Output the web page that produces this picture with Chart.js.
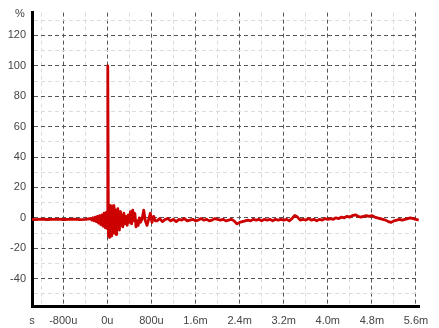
<!DOCTYPE html>
<html>
<head>
<meta charset="utf-8">
<script src="https://cdn.jsdelivr.net/npm/chart.js@4/dist/chart.umd.min.js"></script>
<style>
  body { margin: 0; background: #fff; }
  canvas { display: block; }
</style>
</head>
<body>
<canvas id="grafico" width="439" height="328"></canvas>
<script>
// tiempo en ms, respuesta en %
const tiempos = [
  -1.37, -1.3, -1.2, -1.1, -1.0, -0.9, -0.8, -0.7, -0.6, -0.5, -0.4, -0.32,
  -0.30, -0.28, -0.26, -0.24, -0.22, -0.20, -0.18, -0.16, -0.14, -0.12, -0.10, -0.08, -0.06, -0.04, -0.02, -0.01,
  0.00, 0.008, 0.02,
  0.03, 0.04, 0.05, 0.06, 0.07, 0.08, 0.09, 0.10, 0.11, 0.12, 0.13, 0.14, 0.15, 0.16, 0.17, 0.18, 0.19, 0.20,
  0.21, 0.22, 0.23, 0.24, 0.26, 0.28, 0.30, 0.32, 0.34, 0.36, 0.38, 0.40, 0.42, 0.44, 0.46, 0.48, 0.50, 0.52,
  0.54, 0.56, 0.58, 0.60, 0.63, 0.66, 0.69, 0.72, 0.75, 0.78, 0.81, 0.84, 0.87,
  0.90, 0.95, 1.00, 1.05, 1.10, 1.15, 1.20, 1.25, 1.30, 1.35, 1.40, 1.45, 1.50, 1.55, 1.60, 1.65, 1.70, 1.75,
  1.80, 1.85, 1.90, 1.95, 2.00, 2.05, 2.10, 2.15, 2.20, 2.25, 2.30, 2.35, 2.40, 2.45, 2.50, 2.55, 2.60, 2.65,
  2.70, 2.75, 2.80, 2.85, 2.90, 2.95, 3.00, 3.05, 3.10, 3.15, 3.20, 3.25, 3.30, 3.35, 3.40, 3.45, 3.50, 3.55,
  3.60, 3.65, 3.70, 3.75, 3.80, 3.85, 3.90, 3.95, 4.00, 4.05, 4.10, 4.15, 4.20, 4.25, 4.30, 4.35, 4.40, 4.45,
  4.50, 4.55, 4.60, 4.65, 4.70, 4.75, 4.80, 4.85, 4.90, 4.95, 5.00, 5.05, 5.10, 5.15, 5.20, 5.25, 5.30, 5.35,
  5.40, 5.45, 5.50, 5.55, 5.60, 5.65
];
const respuesta = [
  -1, -1.2, -0.9, -1.1, -1, -0.8, -1.1, -1, -0.9, -1.2, -1, -0.6,
  -0.5, -1.5, 0, -2, 0.5, -2.5, 1, -3.5, 1.5, -4.5, 2, -5.5, 3, -6.5, 3.5, -7,
  4, 100, -12,
  6, -13, 8, -11, 7, -12, 5, -9, 8, -10, 6, -8, 4, -11, 5, -7, 6, -6,
  3, -8, 4, -5, 2, -6, 3, -4, 1, -5, 2, -3, 4, -4, 5, -2, 3, -6,
  -2, -5, 0, -3, -1, 5, -2, -5, -1, 3, -3, 1, -2,
  -2, -0.5, -2.5, -1, -0.5, -2, -1, -2.5, -1, -1.5, -0.5, -2, -1.5, -1, -2, -1.5, -0.5, -1.5,
  -1, -2, -1.5, -0.5, -1, -1.5, -1, -2, -1.5, -1, -2, -4, -3, -2.5, -2, -1.5, -2, -1,
  -1.5, -1, -2, -1, -1.5, -1, -2, -1, -1.5, -1, -1.5, -1, -2, -0.5, 1.5, 0.5, -1.5, -1,
  -1.5, -0.5, -1.5, -1, -2, -1, -1.5, -0.5, -1, -0.5, -1, 0, -0.5, 0.5, 0, 1, 0.5, 1.5,
  2, 1, 0.5, 1, 1.5, 1, 1.5, 0.5, 0, -0.5, -1, -1.5, -2.5, -3, -2, -1.5, -1, -1.5,
  -1, -0.5, 0, -0.5, -1, -1.5
];

const xMarcas = [-0.8, 0, 0.8, 1.6, 2.4, 3.2, 4.0, 4.8, 5.6];
const xEtiquetas = ['-800u', '0u', '800u', '1.6m', '2.4m', '3.2m', '4.0m', '4.8m', '5.6m'];
const xMenores = [-1.2, -0.4, 0.4, 1.2, 2.0, 2.8, 3.6, 4.4, 5.2];
const yMarcas = [-40, -20, 0, 20, 40, 60, 80, 100, 120];
const yMenores = [-50, -30, -10, 10, 30, 50, 70, 90, 110, 130];

const xMin = -1.367, xMax = 5.655;
const yMin = -58, yMax = 135;

const puntos = tiempos.map((t, i) => ({ x: t, y: respuesta[i] }));

const fuente = { family: 'Liberation Sans, Arial, sans-serif', size: 11 };

// "%" arriba del eje y
const unidadY = {
    id: 'unidadY',
    afterDraw(chart) {
        const c = chart.ctx;
        c.save();
        c.font = '11px Liberation Sans, Arial, sans-serif';
        c.fillStyle = '#444';
        c.textAlign = 'center';
        c.textBaseline = 'middle';
        c.fillText('%', 20, 14);
        c.restore();
    }
};

const ctx = document.getElementById('grafico').getContext('2d');
const grafico = new Chart(ctx, {
    type: 'line',
    data: {
        datasets: [{
            data: puntos,
            borderColor: '#cc0000',
            borderWidth: 2.8,
            borderJoinStyle: 'round',
            pointRadius: 0,
            tension: 0,
            fill: false
        }]
    },
    plugins: [unidadY],
    options: {
        responsive: false,
        animation: false,
        events: [],
        layout: { padding: { top: 12, right: 20, left: 0, bottom: 0 } },
        plugins: {
            legend: { display: false },
            tooltip: { enabled: false }
        },
        scales: {
            x: {
                type: 'linear',
                min: xMin,
                max: xMax,
                afterBuildTicks: (scale) => {
                    const v = [xMin].concat(xMarcas, xMenores).sort((a, b) => a - b);
                    scale.ticks = v.map(value => ({ value }));
                },
                afterFit: (scale) => { scale.height = 22; },
                grid: {
                    drawTicks: false,
                    lineWidth: 1,
                    color: (c) => {
                        const v = c.tick ? c.tick.value : null;
                        if (v === xMin) return 'rgba(0,0,0,0)';
                        return xMarcas.includes(v) ? '#555' : '#dcdcdc';
                    }
                },
                border: { display: true, color: '#000', width: 3, dash: [4, 3] },
                ticks: {
                    autoSkip: false,
                    maxRotation: 0,
                    padding: 8,
                    color: '#444',
                    font: fuente,
                    callback: (value) => {
                        if (value === xMin) return 's';
                        const i = xMarcas.indexOf(value);
                        return i >= 0 ? xEtiquetas[i] : '';
                    }
                }
            },
            y: {
                type: 'linear',
                min: yMin,
                max: yMax,
                afterBuildTicks: (scale) => {
                    const v = yMarcas.concat(yMenores).sort((a, b) => a - b);
                    scale.ticks = v.map(value => ({ value }));
                },
                afterFit: (scale) => { scale.width = 32; },
                grid: {
                    drawTicks: false,
                    lineWidth: 1,
                    color: (c) => {
                        const v = c.tick ? c.tick.value : null;
                        return yMarcas.includes(v) ? '#555' : '#dcdcdc';
                    }
                },
                border: { display: true, color: '#000', width: 3, dash: [4, 3] },
                ticks: {
                    autoSkip: false,
                    padding: 6,
                    color: '#444',
                    font: fuente,
                    callback: (value) => yMarcas.includes(value) ? String(value) : ''
                }
            }
        }
    }
});
</script>
</body>
</html>
